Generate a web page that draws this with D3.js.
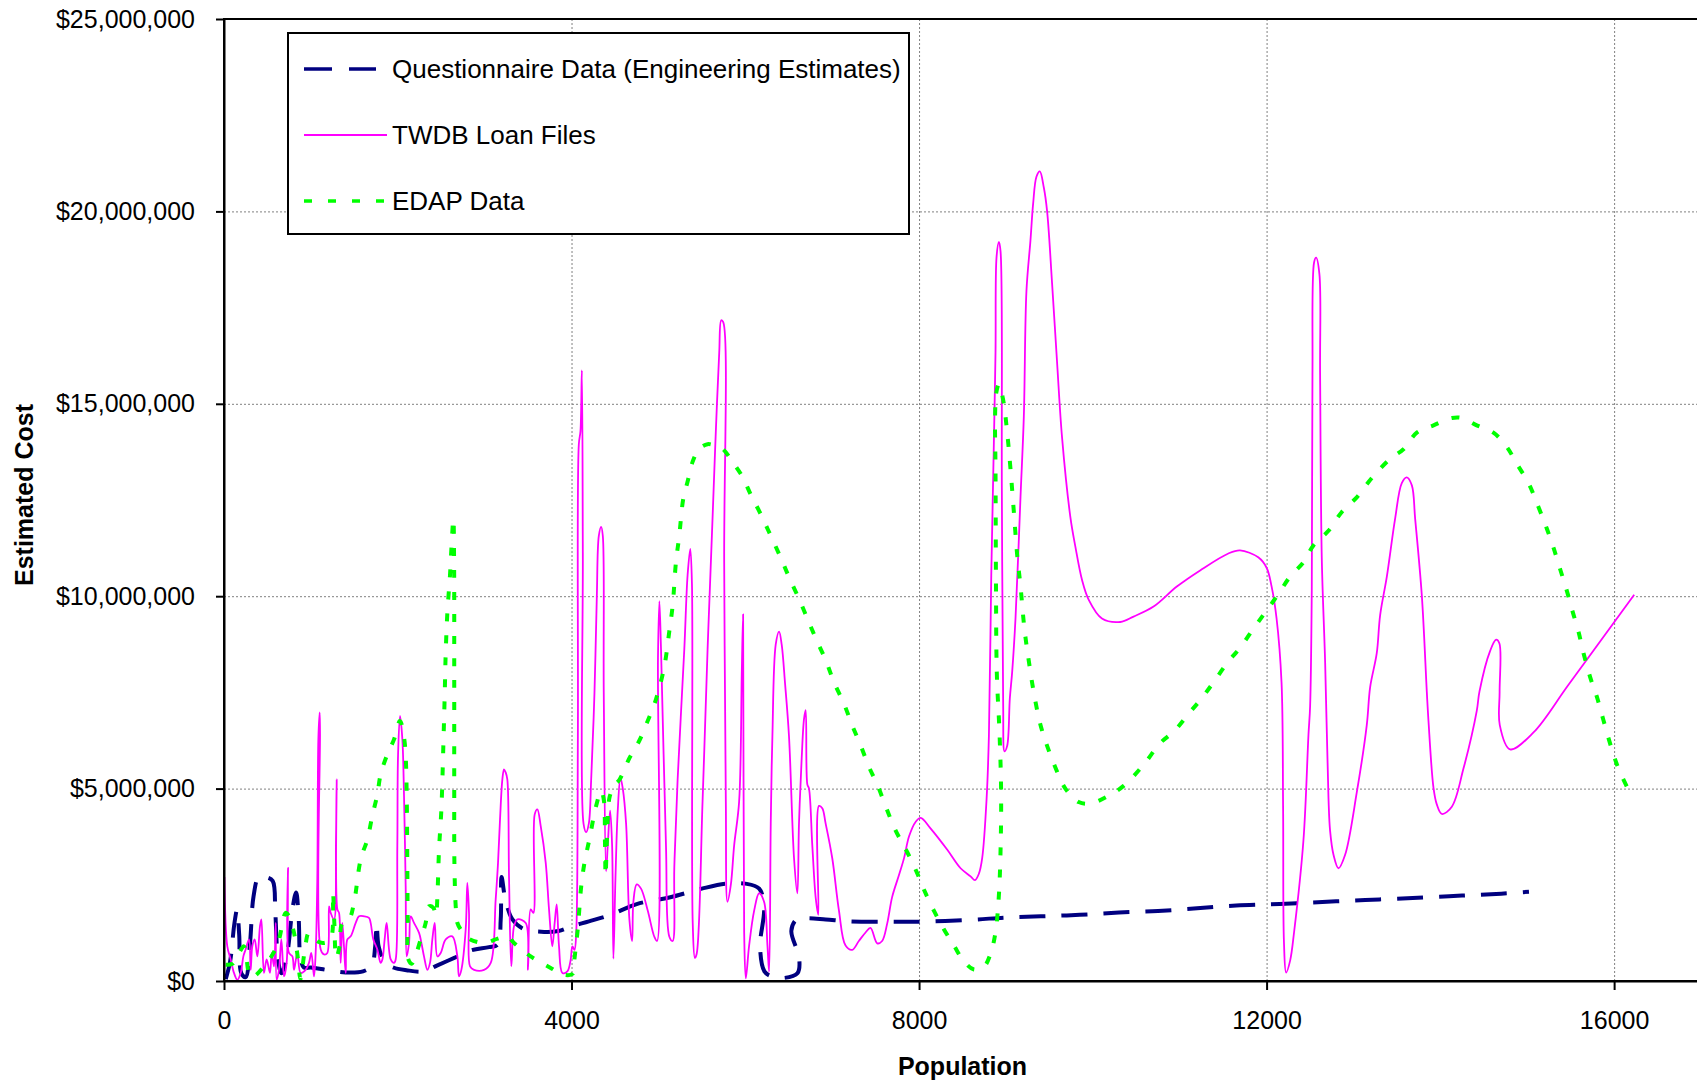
<!DOCTYPE html>
<html>
<head>
<meta charset="utf-8">
<script src="https://cdn.jsdelivr.net/npm/d3@7"></script>
<style>
  html, body { margin: 0; padding: 0; background: #fff; }
  svg { display: block; font-family: "Liberation Sans", Arial, sans-serif; }
</style>
</head>
<body>
<svg id="chart" width="1697" height="1083"></svg>
<script>
// ---------- DATA (population, estimated cost in $ millions) ----------
const seriesNames = ["Questionnaire Data (Engineering Estimates)", "TWDB Loan Files", "EDAP Data"];

const questionnairePoints = [
  [20,0.05],[70,0.5],[120,1.5],[150,1.85],[175,1.2],[200,0.2],[250,0.1],[300,1.0],[340,2.2],[400,2.7],
  [480,2.7],[560,2.6],[590,1.8],[620,0.6],[660,0.2],[720,0.6],[790,1.9],[830,2.3],[860,1.6],[880,0.6],
  [920,0.35],[1000,0.35],[1200,0.28],[1400,0.22],[1600,0.25],[1700,0.4],[1740,0.9],[1757,1.5],[1780,0.9],
  [1850,0.5],[1950,0.35],[2100,0.28],[2300,0.25],[2450,0.4],[2650,0.6],[2850,0.8],[3050,0.88],[3150,0.95],
  [3185,1.6],[3195,2.7],[3240,2.1],[3320,1.6],[3450,1.35],[3650,1.28],[3850,1.3],[4000,1.42],[4200,1.55],
  [4450,1.72],[4750,2.0],[5125,2.17],[5500,2.4],[5780,2.53],[6000,2.53],[6160,2.4],[6216,1.9],[6170,0.9],
  [6220,0.25],[6300,0.12],[6450,0.08],[6600,0.2],[6620,0.6],[6530,1.3],[6590,1.6],[6700,1.63],[6925,1.6],
  [7200,1.55],[7600,1.54],[8000,1.54],[8600,1.59],[9000,1.65],[9400,1.68],[9850,1.72],[10300,1.78],
  [10750,1.82],[11200,1.89],[11650,1.96],[12150,2.0],[12800,2.07],[13300,2.12],[13800,2.17],[14250,2.22],
  [14700,2.27],[15020,2.32]
];

const twdbPoints = [
  [5,2.7],[38,0.9],[77,0.56],[115,0.21],[153,0.03],[192,0.21],[223,0.64],[249,0.82],[288,1.08],[307,0.29],
  [326,0.9],[353,1.08],[384,0.64],[414,1.42],[430,1.6],[460,0.21],[491,0.56],[529,0.21],[549,0.73],[576,0.38],
  [595,1.51],[606,0.03],[633,0.29],[660,1.08],[691,0.12],[721,0.47],[737,2.94],[748,0.73],[787,0.64],[806,0.29],
  [844,0.73],[882,0.21],[940,0.29],[978,0.47],[1005,0.73],[1036,0.12],[1055,0.73],[1074,2.64],[1086,6.28],
  [1101,6.98],[1105,6.46],[1113,0.82],[1151,0.69],[1189,0.73],[1209,1.94],[1228,1.77],[1266,1.6],[1289,3.68],
  [1297,5.24],[1305,1.86],[1324,1.77],[1343,0.47],[1362,1.51],[1381,0.9],[1401,0.21],[1420,1.08],[1458,1.16],
  [1516,1.51],[1554,1.68],[1612,1.68],[1669,1.64],[1688,1.51],[1719,1.08],[1765,0.82],[1803,0.47],[1823,0.56],
  [1849,1.08],[1872,1.51],[1919,0.56],[1957,0.47],[1976,0.56],[1995,3.51],[2003,5.85],[2026,6.89],[2053,6.28],
  [2072,4.81],[2091,2.47],[2103,0.64],[2130,0.99],[2149,1.68],[2187,1.51],[2245,1.25],[2272,0.99],[2302,0.64],
  [2341,0.29],[2371,0.47],[2398,1.08],[2425,1.51],[2456,0.64],[2494,0.73],[2552,1.08],[2628,1.16],[2686,0.64],
  [2705,0.12],[2732,0.29],[2782,1.34],[2801,2.55],[2820,1.77],[2832,0.38],[2878,0.29],[2993,0.29],[3070,0.47],
  [3127,2.12],[3154,3.07],[3177,4.2],[3204,5.24],[3223,5.5],[3242,5.42],[3261,5.24],[3281,2.64],[3307,0.38],
  [3338,1.42],[3377,1.6],[3473,1.51],[3499,0.29],[3530,1.86],[3561,1.77],[3576,4.33],[3607,4.46],[3645,4.03],
  [3703,3.07],[3741,1.86],[3779,0.9],[3806,1.51],[3829,1.99],[3856,0.9],[3895,0.21],[3952,0.25],[3990,0.55],
  [4010,0.9],[4034,0.81],[4054,1.26],[4073,6.36],[4084,13.95],[4103,14.29],[4119,15.87],[4130,11.12],[4138,4.09],
  [4168,3.87],[4199,4.09],[4226,5.23],[4264,7.49],[4291,9.98],[4314,11.57],[4341,11.8],[4360,11.57],[4371,7.49],
  [4398,2.85],[4417,3.53],[4444,4.43],[4467,3.53],[4482,0.58],[4505,2.62],[4532,4.43],[4563,5.28],[4590,5.0],
  [4628,4.09],[4666,1.6],[4697,1.04],[4712,2.06],[4750,2.51],[4800,2.4],[4877,1.83],[4953,1.15],[4984,1.04],
  [4995,8.4],[5011,9.87],[5030,8.62],[5087,3.53],[5126,1.15],[5164,1.04],[5183,2.96],[5221,5.23],[5298,8.62],
  [5336,10.55],[5367,11.23],[5386,10.32],[5395,1.5],[5420,0.6],[5440,0.7],[5508,4.66],[5566,8.62],[5623,12.02],
  [5661,14.29],[5700,16.33],[5723,17.17],[5746,17.12],[5757,10.89],[5776,4.66],[5795,2.06],[5834,2.51],
  [5872,3.53],[5929,4.66],[5960,8.06],[5975,9.53],[5987,1.26],[6006,0.07],[6044,0.92],[6102,1.83],[6159,2.28],
  [6216,2.06],[6255,0.92],[6274,0.24],[6293,4.09],[6312,6.36],[6350,8.74],[6389,9.08],[6419,8.74],[6458,7.72],
  [6503,6.36],[6561,3.19],[6599,2.28],[6618,4.09],[6649,5.79],[6676,6.81],[6695,7.04],[6714,5.11],[6733,5.0],
  [6771,3.53],[6810,2.17],[6840,1.72],[6848,4.55],[6886,4.49],[6925,4.09],[7001,3.19],[7078,1.83],[7154,0.92],
  [7231,0.81],[7307,1.04],[7384,1.26],[7441,1.38],[7518,0.98],[7575,1.04],[7633,1.49],[7690,2.18],[7767,2.74],
  [7828,3.2],[7885,3.76],[7962,4.14],[8019,4.24],[8134,3.96],[8325,3.41],[8478,2.93],[8593,2.72],[8643,2.62],
  [8689,2.79],[8727,3.2],[8777,4.72],[8804,6.38],[8831,10.53],[8861,13.99],[8880,16.34],[8892,18.82],
  [8919,19.21],[8938,18.96],[8953,12.74],[8968,7.21],[8984,5.97],[9014,6.11],[9045,7.35],[9072,8.04],
  [9110,9.42],[9168,12.6],[9206,14.68],[9236,17.93],[9282,19.24],[9313,20.2],[9351,20.9],[9390,21.04],
  [9436,20.62],[9474,20.0],[9531,18.13],[9589,16.06],[9646,14.12],[9742,12.05],[9799,11.29],[9876,10.42],
  [9952,9.91],[10105,9.42],[10316,9.33],[10469,9.47],[10699,9.73],[10967,10.25],[11235,10.67],[11560,11.11],
  [11694,11.19],[11904,11.01],[12000,10.74],[12058,10.25],[12115,9.42],[12172,7.76],[12190,4.5],[12200,1.0],
  [12225,0.22],[12271,0.53],[12317,1.28],[12424,3.65],[12482,6.4],[12501,7.14],[12520,10.14],[12528,15.75],
  [12547,18.68],[12570,18.8],[12608,18.37],[12616,15.75],[12635,11.01],[12674,8.27],[12712,4.78],[12731,3.9],
  [12770,3.28],[12827,2.93],[12904,3.28],[13038,4.9],[13153,6.65],[13192,7.64],[13268,8.52],[13307,9.51],
  [13384,10.51],[13479,12.01],[13556,12.94],[13614,13.09],[13672,12.88],[13710,12.01],[13787,10.01],
  [13844,7.52],[13863,6.77],[13921,5.02],[13959,4.59],[14017,4.34],[14132,4.53],[14266,5.52],[14419,7.02],
  [14450,7.52],[14573,8.58],[14642,8.87],[14680,8.77],[14682,7.52],[14684,6.65],[14803,6.02],[15072,6.46],
  [15475,7.7],[16231,10.04]
];

const edapPoints = [
  [20,0.42],[100,0.45],[173,0.73],[230,0.9],[300,0.12],[345,0.12],[460,0.38],[570,0.73],[633,1.08],[710,1.77],
  [748,1.68],[806,1.25],[850,0.6],[880,0.05],[930,0.8],[978,1.25],[1074,1.03],[1151,0.99],[1228,1.08],[1254,2.3],
  [1270,1.5],[1292,0.6],[1330,0.9],[1360,1.5],[1439,1.6],[1496,2.03],[1573,3.16],[1650,3.68],[1707,4.29],
  [1765,4.85],[1803,5.37],[1880,5.89],[1957,6.28],[2026,6.76],[2072,6.33],[2091,5.85],[2103,4.81],[2110,3.0],
  [2115,1.51],[2122,0.56],[2160,0.45],[2264,1.08],[2321,1.51],[2360,1.94],[2410,1.9],[2440,1.7],[2456,2.2],
  [2475,3.42],[2502,4.46],[2525,6.15],[2540,7.41],[2552,8.54],[2571,9.58],[2601,10.54],[2617,11.23],[2640,12.01],
  [2648,11.0],[2650,8.0],[2650,5.0],[2652,3.07],[2667,1.94],[2686,1.51],[2724,1.34],[2801,1.12],[2993,0.99],
  [3150,1.1],[3261,1.16],[3338,0.99],[3530,0.64],[3760,0.34],[3914,0.16],[4015,0.19],[4034,0.58],[4073,1.38],
  [4111,2.45],[4149,3.07],[4207,3.7],[4283,4.55],[4341,4.94],[4372,4.7],[4385,3.6],[4392,2.74],[4410,3.8],
  [4440,4.8],[4500,5.1],[4551,5.23],[4666,5.79],[4781,6.25],[4877,6.76],[4972,7.32],[5068,8.17],[5125,9.08],
  [5164,9.76],[5202,10.89],[5240,11.57],[5286,12.53],[5336,12.98],[5393,13.49],[5470,13.83],[5566,13.95],
  [5642,13.92],[5738,13.83],[5853,13.49],[5968,13.1],[6063,12.64],[6178,12.13],[6293,11.57],[6408,11.0],
  [6504,10.49],[6618,9.93],[6714,9.42],[6810,8.91],[6925,8.34],[7020,7.77],[7135,7.21],[7231,6.64],[7327,6.13],
  [7422,5.57],[7518,5.11],[7614,4.55],[7728,3.92],[7866,3.34],[7981,2.79],[8057,2.37],[8172,1.82],[8287,1.34],
  [8402,0.92],[8517,0.51],[8632,0.3],[8746,0.37],[8823,0.71],[8880,1.27],[8919,2.24],[8940,3.6],[8944,5.0],
  [8925,6.5],[8895,8.0],[8885,10.5],[8880,13.3],[8875,14.7],[8890,15.3],[8919,15.51],[8969,15.09],[9014,14.26],
  [9053,13.29],[9091,12.19],[9129,11.08],[9168,10.25],[9213,9.15],[9263,8.32],[9321,7.49],[9397,6.66],
  [9474,6.11],[9569,5.55],[9684,5.0],[9837,4.65],[9971,4.61],[10163,4.79],[10354,5.07],[10584,5.62],
  [10775,6.18],[10948,6.52],[11101,6.94],[11254,7.35],[11388,7.76],[11541,8.25],[11694,8.66],[11847,9.15],
  [12000,9.63],[12134,10.05],[12271,10.51],[12424,10.88],[12539,11.32],[12712,11.7],[12866,12.19],[13038,12.57],
  [13211,13.07],[13422,13.57],[13575,13.82],[13729,14.25],[13921,14.44],[14132,14.63],[14247,14.63],
  [14419,14.44],[14611,14.25],[14765,13.88],[14880,13.44],[15014,12.94],[15129,12.32],[15225,11.76],
  [15302,11.26],[15379,10.7],[15456,10.14],[15525,9.58],[15590,9.08],[15648,8.52],[15725,7.89],[15801,7.39],
  [15878,6.77],[15974,6.02],[16051,5.52],[16166,4.96]
];

const xTickValues = [0, 4000, 8000, 12000, 16000];
const yTickValues = [0, 5, 10, 15, 20, 25];
const yTickLabels = ["$0", "$5,000,000", "$10,000,000", "$15,000,000", "$20,000,000", "$25,000,000"];
const xTitle = "Population";
const yTitle = "Estimated Cost";

// ---------- LAYOUT ----------
const svg = d3.select("#chart");
const M = { left: 224, top: 19, right: 1701, bottom: 981 };
const x = d3.scaleLinear().domain([0, 17000]).range([M.left, M.right]);
const y = d3.scaleLinear().domain([0, 25]).range([M.bottom, M.top]);

svg.append("defs").append("clipPath").attr("id", "plotclip")
  .append("rect").attr("x", M.left).attr("y", M.top)
  .attr("width", M.right - M.left).attr("height", M.bottom - M.top);

// gridlines
const grid = svg.append("g").attr("stroke", "#808080").attr("stroke-width", 1).attr("stroke-dasharray", "2,2");
grid.selectAll("line.h").data(yTickValues.filter(v => v > 0 && v < 25)).join("line")
  .attr("x1", M.left).attr("x2", M.right).attr("y1", d => y(d) + 0.5).attr("y2", d => y(d) + 0.5);
grid.selectAll("line.v").data(xTickValues.filter(v => v > 0)).join("line")
  .attr("y1", M.top).attr("y2", M.bottom).attr("x1", d => x(d) + 0.5).attr("x2", d => x(d) + 0.5);

// series
const line = d3.line().x(d => x(d[0])).y(d => y(d[1])).curve(d3.curveCatmullRom.alpha(0.5));
const series = svg.append("g").attr("clip-path", "url(#plotclip)").attr("fill", "none");
series.append("path").datum(questionnairePoints).attr("d", line)
  .attr("stroke", "#000080").attr("stroke-width", 4).attr("stroke-dasharray", "26,16");
series.append("path").datum(twdbPoints).attr("d", line)
  .attr("stroke", "#FF00FF").attr("stroke-width", 1.8).attr("stroke-linejoin", "round");
series.append("path").datum(edapPoints).attr("d", line)
  .attr("stroke", "#00FF00").attr("stroke-width", 4).attr("stroke-dasharray", "8,14");

// plot border (top / right)
svg.append("rect").attr("x", M.left).attr("y", M.top)
  .attr("width", M.right - M.left).attr("height", M.bottom - M.top)
  .attr("fill", "none").attr("stroke", "#000").attr("stroke-width", 2);

// axes
const yAxis = d3.axisLeft(y).tickValues(yTickValues).tickFormat((d, i) => yTickLabels[i])
  .tickSize(8).tickSizeOuter(0).tickPadding(21);
const gy = svg.append("g").attr("transform", `translate(${M.left},0)`).call(yAxis);
gy.selectAll("path,line").attr("stroke", "#000").attr("stroke-width", 2);
gy.selectAll("text").attr("font-size", 25).attr("fill", "#000")
  .attr("font-family", '"Liberation Sans", Arial, sans-serif');

const xAxis = d3.axisBottom(x).tickValues(xTickValues).tickFormat(d3.format("d"))
  .tickSize(9).tickSizeOuter(0).tickPadding(21);
const gx = svg.append("g").attr("transform", `translate(0,${M.bottom})`).call(xAxis);
gx.selectAll("path,line").attr("stroke", "#000").attr("stroke-width", 2);
gx.selectAll("text").attr("font-size", 25).attr("fill", "#000")
  .attr("font-family", '"Liberation Sans", Arial, sans-serif');

// axis titles
svg.append("text").attr("x", (M.left + M.right) / 2).attr("y", 1075)
  .attr("text-anchor", "middle").attr("font-size", 25).attr("font-weight", "bold").text(xTitle);
svg.append("text").attr("transform", "translate(33,495) rotate(-90)")
  .attr("text-anchor", "middle").attr("font-size", 25).attr("font-weight", "bold").text(yTitle);

// legend
const lg = svg.append("g");
lg.append("rect").attr("x", 288).attr("y", 33).attr("width", 621).attr("height", 201)
  .attr("fill", "#fff").attr("stroke", "#000").attr("stroke-width", 2);
const legendStyles = [
  { color: "#000080", width: 3.5, dash: "28,17", x2: 376 },
  { color: "#FF00FF", width: 2.2, dash: null, x2: 387 },
  { color: "#00FF00", width: 3.7, dash: "8,16", x2: 384 }
];
const rowY = [69, 135, 201];
seriesNames.forEach((name, i) => {
  const s = legendStyles[i];
  lg.append("line").attr("x1", 304).attr("x2", s.x2).attr("y1", rowY[i]).attr("y2", rowY[i])
    .attr("stroke", s.color).attr("stroke-width", s.width).attr("stroke-dasharray", s.dash);
  lg.append("text").attr("x", 392).attr("y", rowY[i] + 9).attr("font-size", 26).attr("fill", "#000").text(name);
});
</script>
</body>
</html>
